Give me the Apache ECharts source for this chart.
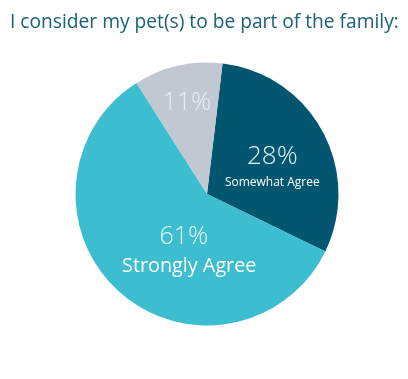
<!DOCTYPE html>
<html>
<head>
<meta charset="utf-8">
<script src="https://cdn.jsdelivr.net/npm/echarts@6/dist/echarts.min.js"></script>
<style>
html,body{margin:0;padding:0;background:#fff;}
#chart{width:408px;height:379px;}
</style>
</head>
<body>
<div id="chart"></div>
<script>
const titleText = "I consider my pet(s) to be part of the family:";
const categories = ["Somewhat Agree", "Strongly Agree", ""];
// slice sizes as drawn in the picture
const sliceValues = [30.3, 58.8, 10.9];
// percentages printed on the slices
const percentLabels = ["28%", "61%", "11%"];

const colors = ["#03566f", "#3dbdd0", "#c1c8d1"];
const labelOffsets = [[5, 6], [28, 5], [-5, -24]];
const nameSizes = [12, 19.8, 12];
const pctSizes = [26, 25, 25];
const pctPadding = [[0, 0, 0, 0], [0, 11, 0, 0], [0, 0, 0, 0]];
const pctColors = ["#e8f4f6", "#e8f6f8", "#e9eef2"];

const data = categories.map((c, i) => ({
  name: c,
  value: sliceValues[i],
  itemStyle: { color: colors[i] },
  label: {
    offset: labelOffsets[i],
    formatter: c ? ('{p|' + percentLabels[i] + '}\n{n|' + c + '}') : ('{p|' + percentLabels[i] + '}'),
    rich: {
      p: { fontFamily: 'Open Sans', fontSize: pctSizes[i], fontWeight: 300, color: pctColors[i], lineHeight: 32, align: 'center', padding: pctPadding[i] },
      n: { fontFamily: 'Open Sans', fontSize: nameSizes[i], color: '#ffffff', lineHeight: nameSizes[i] + 8, align: 'center' }
    }
  }
}));

const chart = echarts.init(document.getElementById('chart'));
chart.setOption({
  animation: false,
  title: {
    text: titleText,
    left: 5,
    top: 8,
    textStyle: { fontFamily: 'Open Sans', fontSize: 19.2, fontWeight: 'normal', color: '#1a6079' }
  },
  series: [{
    type: 'pie',
    center: [207, 194],
    radius: 131.5,
    startAngle: 83.2,
    clockwise: true,
    avoidLabelOverlap: false,
    label: { show: true, position: 'inside' },
    labelLine: { show: false },
    emphasis: { disabled: true },
    itemStyle: { borderWidth: 0 },
    data: data
  }]
});
</script>
</body>
</html>
